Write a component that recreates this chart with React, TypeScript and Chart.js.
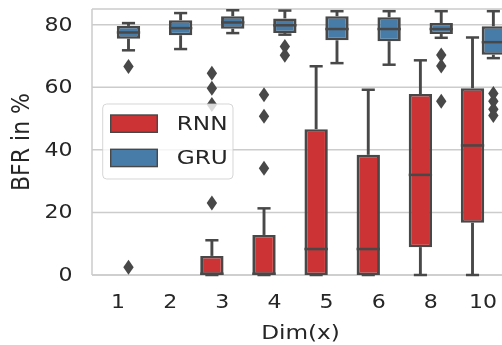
import React, { useEffect, useRef } from 'react';
import { Chart, registerables } from 'chart.js';

Chart.register(...registerables);

// ---- data ----
const dims = ['1', '2', '3', '4', '5', '6', '8', '10'];
const yTicks = [0, 20, 40, 60, 80];
const seriesNames = ['RNN', 'GRU'];
const xTitle = 'Dim(x)';
const yTitle = 'BFR in %';

const rnnLow = [null, null, 0, 0, 0, 0, 0, 0];
const rnnQ1 = [null, null, 0, 0, 0, 0, 8.9, 16.7];
const rnnMed = [null, null, 0, 0, 8.3, 8.3, 32, 41.4];
const rnnQ3 = [null, null, 6.1, 12.8, 46.6, 38.4, 57.8, 59.7];
const rnnHigh = [null, null, 11.1, 21.3, 66.7, 59.2, 68.6, 75.9];
const rnnOut = [[], [], [64.5, 59.7, 54.5, 23], [57.6, 50.7, 34.1], [], [], [], []];

const gruLow = [71.8, 72.2, 77.3, 76.8, 67.7, 67.2, 75.8, 69.3];
const gruQ1 = [75.5, 76.6, 78.7, 77.3, 75, 74.7, 77, 70.4];
const gruMed = [77.5, 78.9, 80.7, 79.8, 78.6, 78.6, 78.6, 74.4];
const gruQ3 = [79.6, 81.4, 82.7, 82, 82.7, 82.4, 80.5, 79.5];
const gruHigh = [80.5, 83.7, 84.6, 84.5, 84.3, 84.3, 84.3, 84.3];
const gruOut = [[66.6, 2.5], [], [], [73, 70.2], [], [], [70.3, 66.8, 55.5], [58, 55.5, 53, 51]];

// ---- style ----
const RED = '#cb3335';
const BLUE = '#477ca8';
const LINE = '#484848';
const GRID = '#cccccc';
const TEXT = '#262626';
const FONT = "'DejaVu Sans', sans-serif";
const LWV = 2.9; // vertical line width
const LWH = 2.5; // horizontal line width
const SX = 1.16; // horizontal stretch of the original figure

function drawText(ctx: any, text: string, x: number, y: number, size: number, align: string, rotate = 0) {
  ctx.save();
  ctx.translate(x, y);
  ctx.scale(SX, 1);
  if (rotate) ctx.rotate(rotate);
  ctx.font = `${size}px ${FONT}`;
  ctx.fillStyle = TEXT;
  ctx.textAlign = align;
  ctx.textBaseline = 'middle';
  ctx.fillText(text, 0, 0);
  ctx.restore();
}

const boxPlugin = {
  id: 'boxExtras',
  beforeDatasetsDraw(chart: any) {
    const { ctx, scales, chartArea } = chart;
    const y = scales.y;
    const x = scales.x;
    ctx.save();
    // grid + spines
    ctx.strokeStyle = GRID;
    ctx.lineWidth = 1.5;
    yTicks.forEach((v) => {
      const yy = y.getPixelForValue(v);
      ctx.beginPath();
      ctx.moveTo(chartArea.left, yy);
      ctx.lineTo(chartArea.right, yy);
      ctx.stroke();
    });
    ctx.beginPath();
    ctx.moveTo(chartArea.left, chartArea.top);
    ctx.lineTo(chartArea.right, chartArea.top);
    ctx.moveTo(chartArea.left, chartArea.top);
    ctx.lineTo(chartArea.left, chartArea.bottom);
    ctx.moveTo(chartArea.left, chartArea.bottom);
    ctx.lineTo(chartArea.right, chartArea.bottom);
    ctx.stroke();

    // tick labels + titles
    yTicks.forEach((v) => {
      drawText(ctx, String(v), chartArea.left - 19.5, y.getPixelForValue(v) + 1, 19, 'right');
    });
    dims.forEach((d, i) => {
      drawText(ctx, d, x.getPixelForValue(i), chartArea.bottom + 28, 19, 'center');
    });
    drawText(ctx, xTitle, (chartArea.left + chartArea.right) / 2, chartArea.bottom + 58.5, 20, 'center');
    drawText(ctx, yTitle, 22, (chartArea.top + chartArea.bottom) / 2, 22, 'center', -Math.PI / 2);

    // whiskers
    ctx.strokeStyle = LINE;
    ctx.lineCap = 'butt';
    chart.data.datasets.forEach((ds: any, di: number) => {
      const meta = chart.getDatasetMeta(di);
      const st = ds.boxStats;
      meta.data.forEach((el: any, i: number) => {
        if (st.q1[i] == null) return;
        const cx = el.x;
        const half = 0.25 * (el.width - LWV) + LWV / 2;
        const segs = [
          [st.q3[i], st.high[i]],
          [st.q1[i], st.low[i]],
        ];
        segs.forEach(([from, to]) => {
          const y0 = y.getPixelForValue(from);
          const y1 = y.getPixelForValue(to);
          ctx.lineWidth = LWV;
          ctx.beginPath();
          ctx.moveTo(cx, y0);
          ctx.lineTo(cx, y1);
          ctx.stroke();
          ctx.lineWidth = LWH;
          ctx.beginPath();
          ctx.moveTo(cx - half, y1);
          ctx.lineTo(cx + half, y1);
          ctx.stroke();
        });
      });
    });
    ctx.restore();
  },
  afterDatasetsDraw(chart: any) {
    const { ctx, scales, chartArea } = chart;
    const y = scales.y;
    ctx.save();
    // medians
    ctx.strokeStyle = LINE;
    ctx.lineWidth = LWH;
    chart.data.datasets.forEach((ds: any, di: number) => {
      const meta = chart.getDatasetMeta(di);
      const st = ds.boxStats;
      meta.data.forEach((el: any, i: number) => {
        if (st.med[i] == null) return;
        const yy = Math.min(y.getPixelForValue(st.med[i]), chartArea.bottom - LWH / 2);
        ctx.beginPath();
        ctx.moveTo(el.x - el.width / 2, yy);
        ctx.lineTo(el.x + el.width / 2, yy);
        ctx.stroke();
      });
    });
    // outliers (thin diamonds)
    ctx.fillStyle = LINE;
    chart.data.datasets.forEach((ds: any, di: number) => {
      const meta = chart.getDatasetMeta(di);
      const st = ds.boxStats;
      meta.data.forEach((el: any, i: number) => {
        (st.out[i] || []).forEach((v: number) => {
          const yy = y.getPixelForValue(v);
          const hw = 5.2, hh = 7.5;
          ctx.beginPath();
          ctx.moveTo(el.x, yy - hh);
          ctx.lineTo(el.x + hw, yy);
          ctx.lineTo(el.x, yy + hh);
          ctx.lineTo(el.x - hw, yy);
          ctx.closePath();
          ctx.fill();
        });
      });
    });

    // legend
    const lx = chartArea.left + 10.7;
    const ly = chartArea.top + 95;
    const lw = 130.3;
    const lh = 75;
    const r = 4;
    ctx.beginPath();
    ctx.moveTo(lx + r, ly);
    ctx.lineTo(lx + lw - r, ly);
    ctx.arcTo(lx + lw, ly, lx + lw, ly + r, r);
    ctx.lineTo(lx + lw, ly + lh - r);
    ctx.arcTo(lx + lw, ly + lh, lx + lw - r, ly + lh, r);
    ctx.lineTo(lx + r, ly + lh);
    ctx.arcTo(lx, ly + lh, lx, ly + lh - r, r);
    ctx.lineTo(lx, ly + r);
    ctx.arcTo(lx, ly, lx + r, ly, r);
    ctx.closePath();
    ctx.fillStyle = 'rgba(255,255,255,0.8)';
    ctx.fill();
    ctx.strokeStyle = 'rgba(204,204,204,0.8)';
    ctx.lineWidth = 1;
    ctx.stroke();

    chart.data.datasets.forEach((ds: any, di: number) => {
      const py = ly + 11 + di * 34.3;
      ctx.fillStyle = ds.backgroundColor;
      ctx.fillRect(lx + 8, py, 46.6, 17.3);
      ctx.strokeStyle = LINE;
      ctx.lineWidth = 1.4;
      ctx.strokeRect(lx + 8, py, 46.6, 17.3);
      drawText(ctx, ds.label, lx + 74, py + 9.8, 20, 'left');
    });
    ctx.restore();
  },
};

function makeBars(q1: any[], q3: any[]) {
  return q1.map((v, i) => (v == null ? null : [v, q3[i]]));
}

const borderW = { left: LWV, right: LWV, top: LWH, bottom: LWH };

export default function App() {
  const ref = useRef<HTMLCanvasElement>(null);
  useEffect(() => {
    const chart = new Chart(ref.current as HTMLCanvasElement, {
      type: 'bar',
      data: {
        labels: dims,
        datasets: [
          {
            label: seriesNames[0],
            data: makeBars(rnnQ1, rnnQ3) as any,
            backgroundColor: RED,
            borderColor: LINE,
            borderWidth: borderW,
            borderSkipped: false,
            categoryPercentage: 0.8,
            barPercentage: 1.12,
            boxStats: { low: rnnLow, q1: rnnQ1, med: rnnMed, q3: rnnQ3, high: rnnHigh, out: rnnOut },
          } as any,
          {
            label: seriesNames[1],
            data: makeBars(gruQ1, gruQ3) as any,
            backgroundColor: BLUE,
            borderColor: LINE,
            borderWidth: borderW,
            borderSkipped: false,
            categoryPercentage: 0.8,
            barPercentage: 1.12,
            boxStats: { low: gruLow, q1: gruQ1, med: gruMed, q3: gruQ3, high: gruHigh, out: gruOut },
          } as any,
        ],
      },
      options: {
        responsive: false,
        animation: false,
        devicePixelRatio: 1,
        layout: { padding: { top: 9, right: 3, left: 92, bottom: 70 } },
        plugins: {
          legend: { display: false },
          tooltip: { enabled: false },
        },
        scales: {
          x: { display: false, offset: true },
          y: { display: false, min: 0, max: 85 },
        },
      } as any,
      plugins: [boxPlugin],
    });
    return () => chart.destroy();
  }, []);
  return (
    <div
      style={{
        position: 'fixed',
        left: 0,
        top: 0,
        width: 502,
        height: 345,
        overflow: 'hidden',
        background: '#fff',
      }}
    >
      <canvas ref={ref} width={512} height={345} style={{ display: 'block', width: 512, height: 345 }} />
    </div>
  );
}
